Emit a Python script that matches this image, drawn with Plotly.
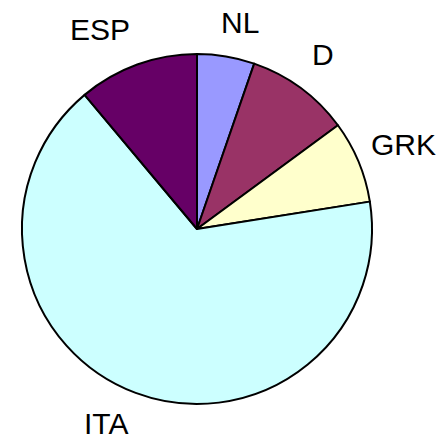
import plotly.graph_objects as go

categories = ["NL", "D", "GRK", "ITA", "ESP"]
values = [5.3, 9.6, 7.6, 66.4, 11.1]
colors = ["#9999FF", "#993366", "#FFFFCC", "#CCFFFF", "#660066"]

# the page body adds an 8px offset; size the figure to fill the rest of the window
OFF = 8
W, H = 444 - OFF, 437 - OFF
# label centres (window pixels)
label_px = {"NL": (240, 22), "D": (323, 54), "GRK": (403, 145), "ITA": (106, 423), "ESP": (100, 29)}

cx, cy, r = 197, 229, 175  # pie centre / radius in window pixels


def fx(p):
    return (p - OFF) / W


def fy(p):
    return 1 - (p - OFF) / H


fig = go.Figure(go.Pie(
    labels=categories,
    values=values,
    sort=False,
    direction="clockwise",
    rotation=0,
    marker=dict(colors=colors, line=dict(color="black", width=2)),
    textinfo="none",
    hoverinfo="label+percent",
    domain=dict(x=[fx(cx - r), fx(cx + r)], y=[fy(cy + r), fy(cy - r)]),
    showlegend=False,
))

for c in categories:
    px, py = label_px[c]
    fig.add_annotation(
        x=fx(px), y=fy(py), xref="paper", yref="paper",
        text=c, showarrow=False, xanchor="center", yanchor="middle",
        font=dict(family="Liberation Sans, Arial, sans-serif", size=30, color="black"),
    )

fig.update_layout(
    width=W, height=H,
    margin=dict(l=0, r=0, t=0, b=0),
    paper_bgcolor="white",
    plot_bgcolor="white",
)

fig.write_html("out.html")
